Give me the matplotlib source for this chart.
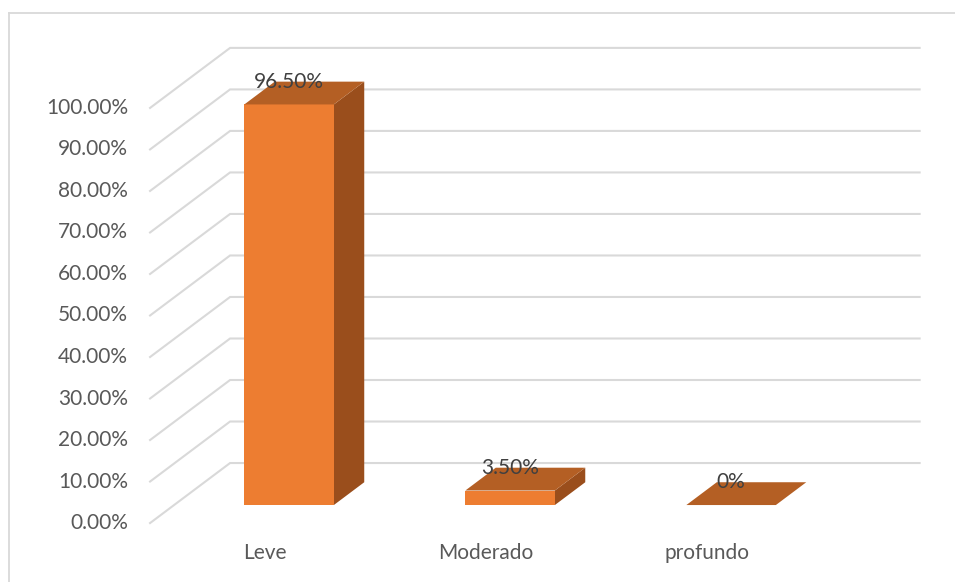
import matplotlib
matplotlib.use("Agg")
import matplotlib.pyplot as plt
from matplotlib.patches import Polygon

# --- data -------------------------------------------------------------
categories = ["Leve", "Moderado", "profundo"]
values = [96.5, 3.5, 0.0]
value_labels = ["96.50%", "3.50%", "0%"]
tick_values = [0, 10, 20, 30, 40, 50, 60, 70, 80, 90, 100]
tick_labels = ["0.00%", "10.00%", "20.00%", "30.00%", "40.00%", "50.00%",
               "60.00%", "70.00%", "80.00%", "90.00%", "100.00%"]

# --- style ------------------------------------------------------------
FRONT = "#ED7D31"
TOP = "#B45F24"
SIDE = "#9A4E1C"
GRID = "#D9D9D9"
TEXT = "#595959"
LABEL = "#404040"
FS = 15
plt.rcParams["font.family"] = ["Lato", "DejaVu Sans"]

# oblique projection of the 3D box: depth z in [0, 1]
DX = 0.362        # horizontal shift of the back wall (category units)
DY = 14.46        # vertical shift of the back wall (percent units)
BAR_W = 0.405
Z_FRONT, Z_BACK = 0.30, 0.68
X_LEFT, X_RIGHT = -0.52, 2.60


def proj(x, y, z):
    return (x + z * DX, y + z * DY)


fig = plt.figure(figsize=(9.55, 5.82), dpi=100)
ax = fig.add_axes([0, 0, 1, 1])
ax.set_xlim(-1.199, 3.122)
ax.set_ylim(-14.2, 126.0)
ax.axis("off")

# chart frame
ax.plot([0.009, 1.2], [0.978, 0.978], transform=ax.transAxes, color=GRID, lw=1.3, clip_on=False)
ax.plot([0.0094, 0.0094], [-0.1, 0.978], transform=ax.transAxes, color=GRID, lw=1.3, clip_on=False)

# walls: gridlines on the side wall and the back wall
for v, lab in zip(tick_values, tick_labels):
    x0, y0 = proj(X_LEFT, v, 0)
    x1, y1 = proj(X_LEFT, v, 1)
    x2, y2 = proj(X_RIGHT, v, 1)
    ax.plot([x0, x1, x2], [y0, y1, y2], color=GRID, lw=1.5, solid_joinstyle="miter", zorder=1)
    ax.text(x0 - 0.1, y0, lab, ha="right", va="center", fontsize=FS, color=TEXT)

# bars
for i, (v, lab) in enumerate(zip(values, value_labels)):
    xl = i + 0.109 - BAR_W / 2 - Z_FRONT * DX
    xr = xl + BAR_W
    f = [proj(xl, 0, Z_FRONT), proj(xr, 0, Z_FRONT), proj(xr, v, Z_FRONT), proj(xl, v, Z_FRONT)]
    s = [proj(xr, 0, Z_FRONT), proj(xr, 0, Z_BACK), proj(xr, v, Z_BACK), proj(xr, v, Z_FRONT)]
    t = [proj(xl, v, Z_FRONT), proj(xr, v, Z_FRONT), proj(xr, v, Z_BACK), proj(xl, v, Z_BACK)]
    if v > 0:
        ax.add_patch(Polygon(s, closed=True, facecolor=SIDE, edgecolor="none", zorder=3))
        ax.add_patch(Polygon(f, closed=True, facecolor=FRONT, edgecolor="none", zorder=3))
    ax.add_patch(Polygon(t, closed=True, facecolor=TOP, edgecolor="none", zorder=3))
    lx, ly = proj((xl + xr) / 2, v, Z_BACK)
    ax.text(lx - Z_BACK * DX + Z_FRONT * DX, ly, lab, ha="center", va="center",
            fontsize=FS, color=LABEL, zorder=4)

# category labels
for i, c in enumerate(categories):
    ax.text(i, -7.2, c, ha="center", va="center", fontsize=FS, color=TEXT)

fig.savefig("out.png", dpi=100)
